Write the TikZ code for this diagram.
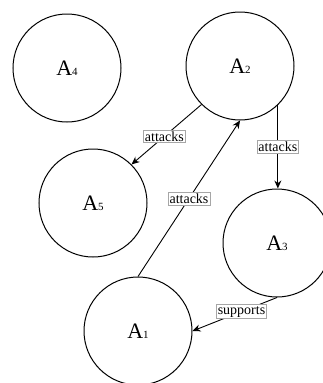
\documentclass[tikz,border=0pt]{standalone}
\usepackage{fontspec}
\setmainfont{Liberation Serif}
\usetikzlibrary{arrows.meta}
\newcommand{\argname}[1]{{\fontsize{22}{24}\selectfont A}{\fontsize{11}{12}\selectfont #1}}
\begin{document}
\begin{tikzpicture}[x=1pt,y=-1pt,
  arg/.style={circle,draw=black,line width=1pt,minimum size=108pt,inner sep=0pt},
  rel/.style={line width=0.9pt,-{Stealth[length=8pt,width=7pt]}},
  lbl/.style={draw=black!35,fill=white,line width=0.6pt,inner sep=1.5pt,font=\fontsize{14}{15}\selectfont}]
\clip (0,0) rectangle (323,383);
\node[arg] (A4) at (67,68) {\argname{4}};
\node[arg] (A2) at (240,66) {\argname{2}};
\node[arg] (A5) at (93,203) {\argname{5}};
\node[arg] (A3) at (277,243) {\argname{3}};
\node[arg] (A1) at (138,331) {\argname{1}};
\draw[rel] (A2.225) -- node[lbl,pos=0.53] {attacks} (A5.45);
\draw[rel] (A1.north) -- node[lbl,pos=0.5] {attacks} (A2.south);
\draw[rel,line width=1.2pt] (A2.-46.7) -- node[lbl,pos=0.5] {attacks} (A2.-46.7 |- A3.north);
\draw[rel] (A3.south) -- node[lbl,pos=0.42] {supports} (A1.east);
\end{tikzpicture}
\end{document}
